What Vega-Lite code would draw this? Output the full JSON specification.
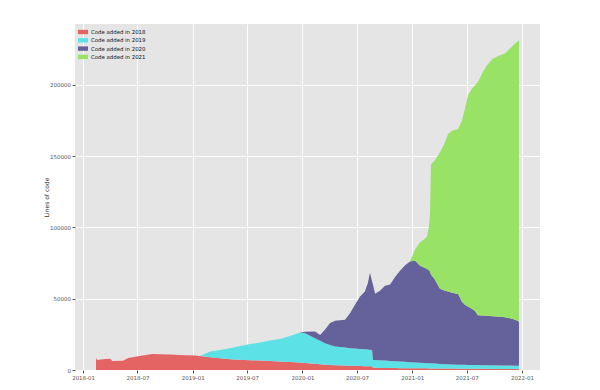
{
  "$schema": "https://vega.github.io/schema/vega-lite/v6.json",
  "width": 465,
  "height": 346,
  "autosize": {"type": "none"},
  "padding": {"left": 75, "top": 24, "right": 60, "bottom": 20},
  "background": "white",
  "config": {"view": {"fill": "#e5e5e5", "stroke": null}, "font": "DejaVu Sans"},
  "data": {"values": [
    {"date": "2018-02-13", "y2018": 8700, "y2019": 0, "y2020": 0, "y2021": 0},
    {"date": "2018-02-16", "y2018": 7000, "y2019": 0, "y2020": 0, "y2021": 0},
    {"date": "2018-03-15", "y2018": 7700, "y2019": 0, "y2020": 0, "y2021": 0},
    {"date": "2018-04-01", "y2018": 7800, "y2019": 0, "y2020": 0, "y2021": 0},
    {"date": "2018-04-08", "y2018": 6300, "y2019": 0, "y2020": 0, "y2021": 0},
    {"date": "2018-05-14", "y2018": 6500, "y2019": 0, "y2020": 0, "y2021": 0},
    {"date": "2018-05-31", "y2018": 8400, "y2019": 0, "y2020": 0, "y2021": 0},
    {"date": "2018-07-03", "y2018": 9600, "y2019": 0, "y2020": 0, "y2021": 0},
    {"date": "2018-08-19", "y2018": 11200, "y2019": 0, "y2020": 0, "y2021": 0},
    {"date": "2018-10-18", "y2018": 10800, "y2019": 0, "y2020": 0, "y2021": 0},
    {"date": "2018-12-06", "y2018": 10300, "y2019": 0, "y2020": 0, "y2021": 0},
    {"date": "2019-01-09", "y2018": 10100, "y2019": 0, "y2020": 0, "y2021": 0},
    {"date": "2019-01-25", "y2018": 9900, "y2019": 0, "y2020": 0, "y2021": 0},
    {"date": "2019-02-28", "y2018": 8900, "y2019": 4000, "y2020": 0, "y2021": 0},
    {"date": "2019-04-02", "y2018": 8200, "y2019": 5900, "y2020": 0, "y2021": 0},
    {"date": "2019-05-05", "y2018": 7600, "y2019": 7700, "y2020": 0, "y2021": 0},
    {"date": "2019-06-07", "y2018": 7100, "y2019": 9800, "y2020": 0, "y2021": 0},
    {"date": "2019-07-11", "y2018": 6900, "y2019": 11400, "y2020": 0, "y2021": 0},
    {"date": "2019-08-13", "y2018": 6600, "y2019": 12600, "y2020": 0, "y2021": 0},
    {"date": "2019-09-15", "y2018": 6300, "y2019": 14300, "y2020": 0, "y2021": 0},
    {"date": "2019-10-19", "y2018": 6000, "y2019": 15800, "y2020": 0, "y2021": 0},
    {"date": "2019-11-21", "y2018": 5600, "y2019": 18300, "y2020": 0, "y2021": 0},
    {"date": "2019-12-24", "y2018": 5200, "y2019": 21100, "y2020": 0, "y2021": 0},
    {"date": "2020-01-10", "y2018": 4900, "y2019": 20900, "y2020": 1000, "y2021": 0},
    {"date": "2020-02-12", "y2018": 4300, "y2019": 18000, "y2020": 4700, "y2021": 0},
    {"date": "2020-02-29", "y2018": 4000, "y2019": 16500, "y2020": 4100, "y2021": 0},
    {"date": "2020-03-16", "y2018": 3700, "y2019": 15100, "y2020": 9400, "y2021": 0},
    {"date": "2020-04-02", "y2018": 3500, "y2019": 14000, "y2020": 15400, "y2021": 0},
    {"date": "2020-04-19", "y2018": 3400, "y2019": 13000, "y2020": 18100, "y2021": 0},
    {"date": "2020-05-22", "y2018": 3100, "y2019": 12600, "y2020": 19500, "y2021": 0},
    {"date": "2020-06-08", "y2018": 3000, "y2019": 12300, "y2020": 24600, "y2021": 0},
    {"date": "2020-06-24", "y2018": 2900, "y2019": 12100, "y2020": 30800, "y2021": 0},
    {"date": "2020-07-11", "y2018": 2800, "y2019": 12000, "y2020": 36800, "y2021": 0},
    {"date": "2020-07-27", "y2018": 2700, "y2019": 11800, "y2020": 40600, "y2021": 0},
    {"date": "2020-08-06", "y2018": 2650, "y2019": 11650, "y2020": 46700, "y2021": 0},
    {"date": "2020-08-13", "y2018": 2600, "y2019": 11600, "y2020": 53900, "y2021": 0},
    {"date": "2020-08-20", "y2018": 2600, "y2019": 11500, "y2020": 48000, "y2021": 0},
    {"date": "2020-08-23", "y2018": 1500, "y2019": 5500, "y2020": 53000, "y2021": 0},
    {"date": "2020-08-30", "y2018": 1500, "y2019": 5500, "y2020": 46500, "y2021": 0},
    {"date": "2020-09-15", "y2018": 1450, "y2019": 5350, "y2020": 48700, "y2021": 0},
    {"date": "2020-10-02", "y2018": 1400, "y2019": 5200, "y2020": 52400, "y2021": 0},
    {"date": "2020-10-19", "y2018": 1400, "y2019": 4950, "y2020": 53650, "y2021": 0},
    {"date": "2020-11-04", "y2018": 1350, "y2019": 4850, "y2020": 58800, "y2021": 0},
    {"date": "2020-11-21", "y2018": 1300, "y2019": 4700, "y2020": 63500, "y2021": 0},
    {"date": "2020-12-08", "y2018": 1300, "y2019": 4500, "y2020": 67700, "y2021": 0},
    {"date": "2020-12-24", "y2018": 1250, "y2019": 4250, "y2020": 70500, "y2021": 0},
    {"date": "2021-01-10", "y2018": 1200, "y2019": 4100, "y2020": 71400, "y2021": 7800},
    {"date": "2021-01-26", "y2018": 1200, "y2019": 3900, "y2020": 68100, "y2021": 16200},
    {"date": "2021-02-12", "y2018": 1150, "y2019": 3750, "y2020": 66600, "y2021": 20500},
    {"date": "2021-02-19", "y2018": 1150, "y2019": 3650, "y2020": 66000, "y2021": 22800},
    {"date": "2021-02-25", "y2018": 1120, "y2019": 3620, "y2020": 65160, "y2021": 30100},
    {"date": "2021-03-01", "y2018": 1100, "y2019": 3600, "y2020": 64300, "y2021": 41000},
    {"date": "2021-03-04", "y2018": 1100, "y2019": 3550, "y2020": 62350, "y2021": 77000},
    {"date": "2021-03-17", "y2018": 1100, "y2019": 3400, "y2020": 58900, "y2021": 83600},
    {"date": "2021-04-03", "y2018": 1050, "y2019": 3170, "y2020": 52780, "y2021": 95600},
    {"date": "2021-04-20", "y2018": 1000, "y2019": 3000, "y2020": 51600, "y2021": 104000},
    {"date": "2021-04-30", "y2018": 1000, "y2019": 2950, "y2020": 51050, "y2021": 110400},
    {"date": "2021-05-13", "y2018": 980, "y2019": 2900, "y2020": 50320, "y2021": 113600},
    {"date": "2021-06-02", "y2018": 950, "y2019": 2800, "y2020": 49450, "y2021": 115800},
    {"date": "2021-06-09", "y2018": 950, "y2019": 2750, "y2020": 47000, "y2021": 121200},
    {"date": "2021-06-15", "y2018": 940, "y2019": 2720, "y2020": 44240, "y2021": 126900},
    {"date": "2021-06-25", "y2018": 930, "y2019": 2680, "y2020": 42190, "y2021": 137200},
    {"date": "2021-07-05", "y2018": 910, "y2019": 2640, "y2020": 41050, "y2021": 147800},
    {"date": "2021-07-18", "y2018": 900, "y2019": 2600, "y2020": 39400, "y2021": 154200},
    {"date": "2021-07-28", "y2018": 890, "y2019": 2580, "y2020": 38030, "y2021": 157900},
    {"date": "2021-08-07", "y2018": 880, "y2019": 2560, "y2020": 34960, "y2021": 163400},
    {"date": "2021-08-24", "y2018": 850, "y2019": 2530, "y2020": 34820, "y2021": 170700},
    {"date": "2021-09-06", "y2018": 800, "y2019": 2500, "y2020": 34700, "y2021": 175500},
    {"date": "2021-09-26", "y2018": 780, "y2019": 2470, "y2020": 34450, "y2021": 180500},
    {"date": "2021-10-20", "y2018": 760, "y2019": 2440, "y2020": 34100, "y2021": 183300},
    {"date": "2021-11-05", "y2018": 750, "y2019": 2400, "y2020": 33850, "y2021": 184800},
    {"date": "2021-11-22", "y2018": 730, "y2019": 2370, "y2020": 33200, "y2021": 189000},
    {"date": "2021-12-09", "y2018": 710, "y2019": 2340, "y2020": 32150, "y2021": 193600},
    {"date": "2021-12-22", "y2018": 700, "y2019": 2330, "y2020": 30970, "y2021": 197100}
  ]},
  "transform": [{"fold": ["y2018", "y2019", "y2020", "y2021"], "as": ["series", "lines"]}],
  "mark": {"type": "area", "opacity": 1, "strokeWidth": 0, "interpolate": "linear"},
  "encoding": {
    "x": {
      "field": "date", "type": "temporal",
      "scale": {"domain": [{"year": 2017, "month": 12, "date": 5}, {"year": 2022, "month": 3, "date": 2}], "nice": false},
      "axis": {
        "title": null,
        "values": [
          {"year": 2018, "month": 1, "date": 1}, {"year": 2018, "month": 7, "date": 1},
          {"year": 2019, "month": 1, "date": 1}, {"year": 2019, "month": 7, "date": 1},
          {"year": 2020, "month": 1, "date": 1}, {"year": 2020, "month": 7, "date": 1},
          {"year": 2021, "month": 1, "date": 1}, {"year": 2021, "month": 7, "date": 1},
          {"year": 2022, "month": 1, "date": 1}
        ],
        "format": "%Y-%m",
        "labelFontSize": 5.5, "labelColor": "#555555", "labelPadding": 2,
        "labelFlush": false, "labelOverlap": false,
        "tickColor": "#555555", "tickSize": 3,
        "grid": true, "gridColor": "#ffffff", "gridWidth": 1, "gridOpacity": 1,
        "domain": false
      }
    },
    "y": {
      "field": "lines", "type": "quantitative", "stack": "zero",
      "scale": {"domain": [0, 242550], "nice": false},
      "axis": {
        "title": "Lines of code", "titleFontSize": 6, "titleFontWeight": "normal",
        "titleColor": "#333333", "titlePadding": 0,
        "values": [0, 50000, 100000, 150000, 200000], "format": "d",
        "labelFontSize": 5.5, "labelColor": "#555555", "labelPadding": 1.5,
        "tickColor": "#555555", "tickSize": 3,
        "grid": true, "gridColor": "#ffffff", "gridWidth": 1, "gridOpacity": 1,
        "domain": false
      }
    },
    "color": {
      "field": "series", "type": "nominal",
      "scale": {"domain": ["y2018", "y2019", "y2020", "y2021"], "range": ["#e36462", "#5ce1e6", "#64619b", "#98e265"]},
      "legend": {
        "title": null, "orient": "top-left", "offset": 4, "padding": 0,
        "labelExpr": "'Code added in ' + substring(datum.label, 1)",
        "labelFontSize": 5.4, "labelColor": "#111111", "labelOffset": 4,
        "symbolType": "M-1.25,-0.55H1.25V0.55H-1.25Z", "symbolSize": 64,
        "symbolStrokeWidth": 0, "symbolOpacity": 1, "rowPadding": 0.3
      }
    },
    "order": {"field": "series", "sort": "ascending"}
  }
}
